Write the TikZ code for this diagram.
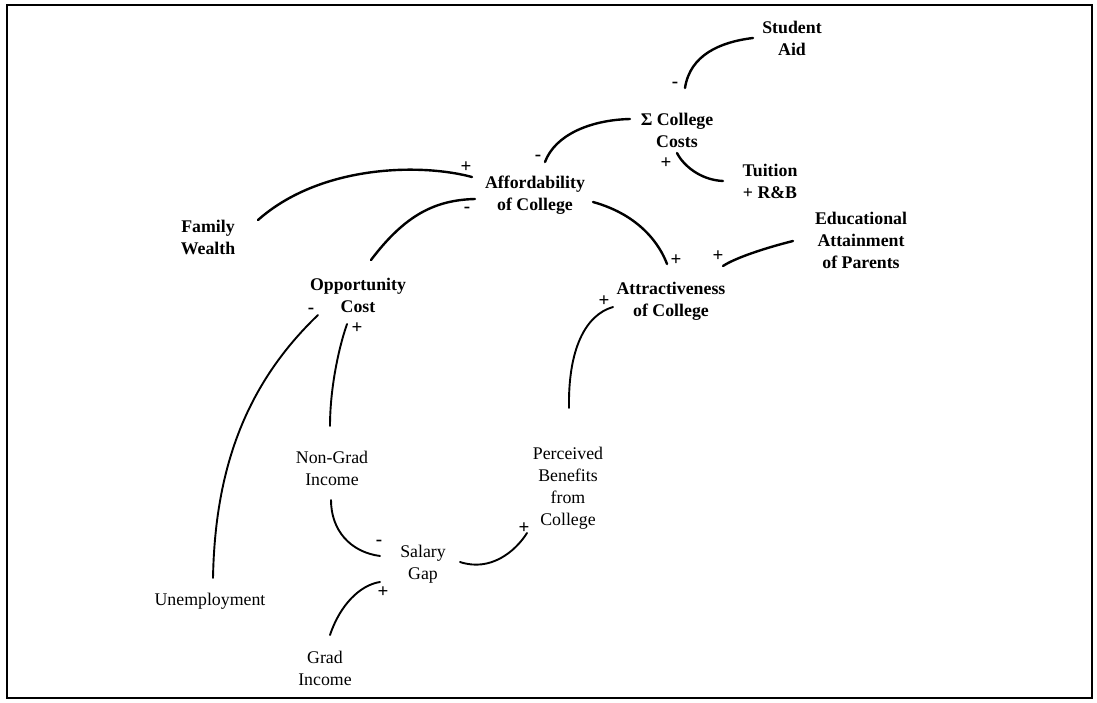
\documentclass[tikz,border=0pt]{standalone}
\usepackage{fontspec}
\setmainfont{Liberation Serif}
\begin{document}
\begin{tikzpicture}[x=1pt,y=-1pt,
  lbl/.style={align=center,inner sep=0pt,font=\fontsize{17.8}{22}\selectfont\bfseries},
  lblr/.style={align=center,inner sep=0pt,font=\fontsize{17.8}{22}\selectfont},
  sgn/.style={inner sep=0pt,font=\fontsize{19}{19}\selectfont\bfseries},
  link/.style={line width=2.4pt,line cap=round},
  linkr/.style={line width=1.9pt,line cap=round}]
\useasboundingbox (0,0) rectangle (1097,703);
\draw[line width=2pt] (7,5) rectangle (1092,698);
% nodes
\node[lbl] (sa) at (792,38) {Student\\Aid};
\node[lbl] (cc) at (677,130) {Σ College\\Costs};
\node[lbl] (tu) at (770,181) {Tuition\\+ R\&B};
\node[lbl] (af) at (535,195) {Affordability\\of College};
\node[lbl] (fw) at (208,237) {Family\\Wealth};
\node[lbl] (ed) at (861,240) {Educational\\Attainment\\of Parents};
\node[lbl] (at) at (671,301) {Attractiveness\\of College};
\node[lbl] (oc) at (358,295) {Opportunity\\Cost};
\node[lblr] (ng) at (332,468) {Non-Grad\\Income};
\node[lblr] (pb) at (568,488) {Perceived\\Benefits\\from\\College};
\node[lblr] (sg) at (423,564) {Salary\\Gap};
\node[lblr] (gi) at (325,668) {Grad\\Income};
\node[lblr] (un) at (210,601) {Unemployment};
% connectors
\draw[link] ([xshift=-39]sa.center) .. controls (720,42) and (690,55) .. ([xshift=8,yshift=42]cc.center);
\draw[link] ([xshift=-47,yshift=11]cc.center) .. controls (590,120) and (555,135) .. ([xshift=10,yshift=33]af.center);
\draw[link] ([xshift=-47]tu.center) .. controls (700,180) and (683,165) .. ([yshift=-23]cc.center);
\draw[link] ([xshift=50,yshift=17]fw.center) .. controls (320,165) and (420,163) .. ([xshift=-63,yshift=18]af.center);
\draw[link] ([xshift=13,yshift=35]oc.center) .. controls (405,215) and (435,200) .. ([xshift=-60,yshift=-4]af.center);
\draw[link] ([xshift=58,yshift=-7]af.center) .. controls (640,215) and (660,245) .. ([xshift=-4,yshift=37]at.center);
\draw[link] ([xshift=-68,yshift=-1]ed.center) .. controls (765,248) and (735,258) .. ([xshift=52,yshift=35]at.center);
\draw[linkr] ([xshift=1,yshift=80]pb.center) .. controls (568,350) and (585,315) .. ([xshift=-58,yshift=-6]at.center);
\draw[linkr] ([xshift=3,yshift=23]un.center) .. controls (215,470) and (245,385) .. ([xshift=-40,yshift=-20]oc.center);
\draw[linkr] ([xshift=-2,yshift=42]ng.center) .. controls (330,390) and (338,350) .. ([xshift=-11,yshift=-29]oc.center);
\draw[linkr] ([xshift=-1,yshift=-32]ng.center) .. controls (331,530) and (350,552) .. ([xshift=-43,yshift=8]sg.center);
\draw[linkr] ([xshift=5,yshift=33]gi.center) .. controls (340,605) and (360,585) .. ([xshift=-43,yshift=-18]sg.center);
\draw[linkr] ([xshift=37,yshift=2]sg.center) .. controls (490,572) and (515,552) .. ([xshift=-41,yshift=-45]pb.center);
% polarity signs
\node[sgn] (s1) at (675,85) {-};
\node[sgn] (s2) at (538,158) {-};
\node[sgn] (s3) at (666,163) {+};
\node[sgn] (s4) at (466,167) {+};
\node[sgn] (s5) at (467,210) {-};
\node[sgn] (s6) at (676,260) {+};
\node[sgn] (s7) at (718,256) {+};
\node[sgn] (s8) at (604,301) {+};
\node[sgn] (s9) at (311,311) {-};
\node[sgn] (s10) at (357,328) {+};
\node[sgn] (s11) at (379,543) {-};
\node[sgn] (s12) at (383,592) {+};
\node[sgn] (s13) at (524,528) {+};
\end{tikzpicture}
\end{document}
